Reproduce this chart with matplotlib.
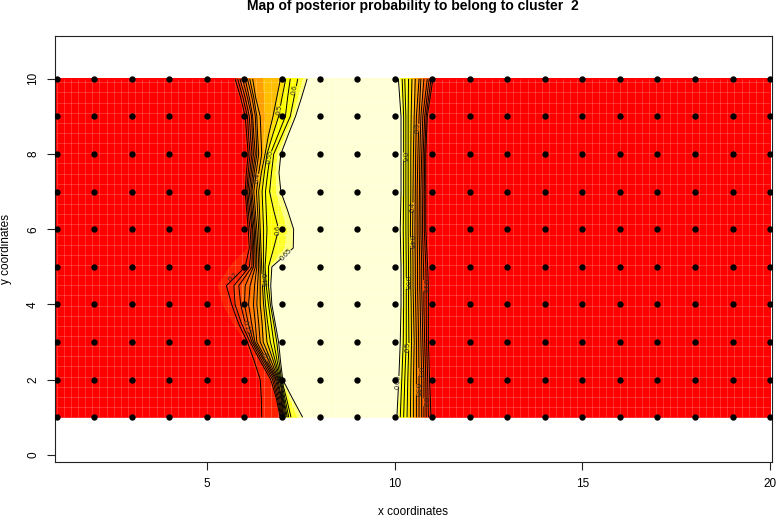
# -*- coding: utf-8 -*-
import numpy as np
import matplotlib
matplotlib.use('Agg')
import matplotlib.pyplot as plt

plt.rcParams['font.family'] = ['Liberation Sans', 'DejaVu Sans']

# grid of sampling points
px = [1, 2, 3, 4, 5, 6, 7, 8, 9, 10, 11, 12, 13, 14, 15, 16, 17, 18, 19, 20]
py = [1, 2, 3, 4, 5, 6, 7, 8, 9, 10]

levels = [0.05, 0.1, 0.15, 0.2, 0.25, 0.3, 0.35, 0.4, 0.45, 0.5, 0.55, 0.6, 0.65]

# rows at which the contour positions were read, left front
left_rows = [1, 1.5, 2, 2.5, 3, 3.5, 4, 4.5, 5, 5.5, 6, 6.5, 7, 7.5, 8, 8.5, 9, 9.5, 10]
# x position of each level, left front (one line per row)
left_x = [
    [6.46, 6.95, 6.97, 6.99, 7.01, 7.03, 7.05, 7.08, 7.11, 7.14, 7.18, 7.24, 7.55],
    [6.45, 6.85, 6.88, 6.91, 6.94, 6.97, 6.99, 7.01, 7.03, 7.05, 7.08, 7.12, 7.28],
    [6.42, 6.70, 6.75, 6.79, 6.83, 6.86, 6.89, 6.91, 6.93, 6.95, 6.97, 6.99, 7.02],
    [6.26, 6.42, 6.47, 6.52, 6.56, 6.60, 6.65, 6.71, 6.77, 6.82, 6.87, 6.92, 6.96],
    [6.08, 6.15, 6.20, 6.24, 6.28, 6.33, 6.42, 6.50, 6.60, 6.69, 6.78, 6.86, 6.91],
    [5.84, 5.92, 6.02, 6.10, 6.19, 6.29, 6.38, 6.47, 6.56, 6.62, 6.71, 6.78, 6.82],
    [5.66, 5.75, 5.90, 6.00, 6.11, 6.24, 6.33, 6.42, 6.51, 6.56, 6.64, 6.69, 6.73],
    [5.52, 5.72, 5.85, 6.02, 6.15, 6.27, 6.35, 6.42, 6.48, 6.53, 6.58, 6.64, 6.70],
    [6.02, 6.13, 6.20, 6.24, 6.29, 6.33, 6.38, 6.42, 6.46, 6.51, 6.55, 6.64, 6.73],
    [6.13, 6.18, 6.21, 6.25, 6.28, 6.32, 6.36, 6.40, 6.44, 6.51, 6.58, 6.78, 7.30],
    [6.10, 6.15, 6.20, 6.22, 6.26, 6.29, 6.33, 6.38, 6.42, 6.51, 6.60, 6.91, 7.31],
    [6.06, 6.10, 6.14, 6.18, 6.21, 6.25, 6.29, 6.35, 6.40, 6.49, 6.58, 6.78, 7.15],
    [6.02, 6.06, 6.09, 6.13, 6.17, 6.20, 6.25, 6.32, 6.38, 6.47, 6.56, 6.67, 6.97],
    [6.05, 6.10, 6.14, 6.18, 6.22, 6.26, 6.31, 6.38, 6.45, 6.53, 6.62, 6.72, 6.92],
    [6.10, 6.15, 6.20, 6.24, 6.29, 6.33, 6.38, 6.46, 6.55, 6.60, 6.69, 6.78, 6.97],
    [6.06, 6.11, 6.16, 6.21, 6.25, 6.31, 6.35, 6.44, 6.64, 6.75, 6.89, 7.00, 7.16],
    [6.02, 6.08, 6.13, 6.19, 6.22, 6.29, 6.33, 6.42, 6.76, 6.91, 7.09, 7.22, 7.36],
    [5.90, 5.96, 6.02, 6.08, 6.13, 6.20, 6.25, 6.30, 6.86, 7.00, 7.15, 7.32, 7.52],
    [5.75, 5.82, 5.88, 5.95, 6.02, 6.08, 6.14, 6.22, 6.96, 7.10, 7.22, 7.42, 7.67],
]
# where the probability starts to leave zero, left front
left_start = [6.42, 6.41, 6.38, 6.20, 6.03, 5.65, 5.35, 5.20, 5.45, 6.08, 6.06,
              6.02, 5.98, 6.00, 6.06, 6.00, 5.98, 5.85, 5.71]

# rows and x position of each level, right front
right_rows = [1, 2, 3, 4, 4.5, 5, 6, 7, 8, 9, 10]
right_x = [
    [10.97, 10.90, 10.84, 10.78, 10.72, 10.65, 10.58, 10.50, 10.42, 10.33, 10.24, 10.15, 10.06],
    [10.93, 10.88, 10.83, 10.78, 10.72, 10.65, 10.58, 10.50, 10.43, 10.35, 10.27, 10.19, 10.11],
    [10.90, 10.85, 10.80, 10.75, 10.70, 10.64, 10.58, 10.52, 10.45, 10.38, 10.31, 10.23, 10.15],
    [10.90, 10.84, 10.78, 10.73, 10.68, 10.62, 10.56, 10.50, 10.44, 10.37, 10.31, 10.24, 10.17],
    [10.90, 10.84, 10.78, 10.72, 10.67, 10.61, 10.55, 10.49, 10.43, 10.37, 10.31, 10.24, 10.17],
    [10.88, 10.83, 10.77, 10.72, 10.67, 10.61, 10.55, 10.49, 10.43, 10.37, 10.31, 10.24, 10.17],
    [10.83, 10.79, 10.74, 10.70, 10.65, 10.60, 10.54, 10.48, 10.42, 10.36, 10.30, 10.23, 10.15],
    [10.83, 10.79, 10.75, 10.70, 10.66, 10.60, 10.55, 10.49, 10.43, 10.36, 10.30, 10.24, 10.17],
    [10.83, 10.80, 10.76, 10.72, 10.67, 10.62, 10.56, 10.50, 10.43, 10.36, 10.30, 10.24, 10.17],
    [10.87, 10.84, 10.80, 10.75, 10.70, 10.65, 10.58, 10.52, 10.44, 10.36, 10.30, 10.24, 10.17],
    [11.02, 10.97, 10.92, 10.87, 10.78, 10.70, 10.65, 10.55, 10.46, 10.37, 10.27, 10.20, 10.10],
]

# contour labels: level, height
left_labels = [
    (0.6, 9.7), (0.5, 9.18), (0.55, 7.93), (0.4, 7.37), (0.6, 5.98), (0.65, 5.33),
    (0.45, 4.66), (0.15, 3.4), (0.3, 2.57), (0.4, 1.8),
]
right_labels = [
    (0.6, 7.93), (0.3, 8.7), (0.4, 6.6), (0.45, 5.65), (0.55, 4.56), (0.15, 4.5),
    (0.5, 2.87), (0.3, 2.2), (0.65, 1.95), (0.35, 1.73), (0.2, 1.4),
]

# heat.colors(12) and the probability bands they were painted on
band_edges = [-0.01, 0.015, 0.1, 0.18, 0.27, 0.36, 0.42, 0.46, 0.5, 0.6, 0.63, 0.65, 0.75]
band_colors = ['#FF0000', '#FF2000', '#FF4000', '#FF6000', '#FF8000', '#FF9F00',
               '#FFBF00', '#FFDF00', '#FFFF00', '#FFFF2A', '#FFFF80', '#FFFFD5']

left_x = np.array(left_x)
right_x = np.array(right_x)

# left part of the map: red plateau, front, pale plateau
n = len(left_rows)
X1 = np.column_stack([np.full(n, 1.0), left_start, left_x, np.full(n, 8.0), np.full(n, 9.5)])
Z1 = np.tile([0, 0] + levels + [0.7, 0.7], (n, 1))
Y1 = np.tile(np.array(left_rows, dtype=float).reshape(-1, 1), (1, X1.shape[1]))

# right part: pale plateau, front, red plateau
n = len(right_rows)
X2 = np.column_stack([np.full(n, 9.0), right_x[:, ::-1], right_x[:, 0] + 0.03, np.full(n, 20.0)])
Z2 = np.tile([0.7] + levels[::-1] + [0, 0], (n, 1))
Y2 = np.tile(np.array(right_rows, dtype=float).reshape(-1, 1), (1, X2.shape[1]))

fig = plt.figure(figsize=(7.76, 5.18), dpi=100)
ax = fig.add_axes([55 / 776, 1 - 462 / 518, (772 - 55) / 776, (462 - 36) / 518])

ax.contourf(X1, Y1, Z1, levels=band_edges, colors=band_colors)
ax.contourf(X2, Y2, Z2, levels=band_edges, colors=band_colors)

# the pale seams between image cells
ax.vlines(np.arange(1, 20, 0.19), 1, 10, color='white', lw=0.6, alpha=0.22)
ax.hlines(np.arange(1, 10, 0.27), 1, 20, color='white', lw=0.6, alpha=0.22)

cs1 = ax.contour(X1, Y1, Z1, levels=levels, colors='black', linewidths=0.7)
cs2 = ax.contour(X2, Y2, Z2, levels=levels, colors='black', linewidths=0.7)


def put_labels(cs, table, rows, lab):
    # a point right on the wanted line, so clabel picks that line
    pts = []
    for lev, ly in lab:
        col = table[:, levels.index(lev)]
        pts.append((np.interp(ly, rows, col), ly))
    ax.clabel(cs, manual=pts, fmt='%g', fontsize=5.2, inline=True,
              inline_spacing=0, colors='#222222')


put_labels(cs1, left_x, left_rows, left_labels)
put_labels(cs2, right_x, right_rows, right_labels)
ax.text(5.72, 4.72, '0.2', fontsize=5.2, rotation=42, ha='center', va='center',
        color='#222222')

xx, yy = np.meshgrid(px, py)
ax.scatter(xx.ravel(), yy.ravel(), s=21, color='black', linewidths=0, zorder=5)

ax.set_xlim(0.955, 20.05)
ax.set_ylim(-0.19, 11.14)
ax.set_xticks([5, 10, 15, 20])
ax.set_yticks([0, 2, 4, 6, 8, 10])
ax.tick_params(length=5.5, width=0.8, labelsize=8.5, color='#222222', pad=6)
plt.setp(ax.get_yticklabels(), rotation=90, va='center')
for s in ax.spines.values():
    s.set_linewidth(0.8)
    s.set_color('#222222')

fig.text(413 / 776, 1 - 6 / 518, 'Map of posterior probability to belong to cluster  2',
         fontsize=10, fontweight='bold', ha='center', va='center')
fig.text(413 / 776, 1 - 512 / 518, 'x coordinates', fontsize=8.5, ha='center', va='center')
fig.text(6 / 776, 1 - 249 / 518, 'y coordinates', fontsize=8.5, rotation=90,
         ha='center', va='center')

fig.savefig('out.png', dpi=100)
